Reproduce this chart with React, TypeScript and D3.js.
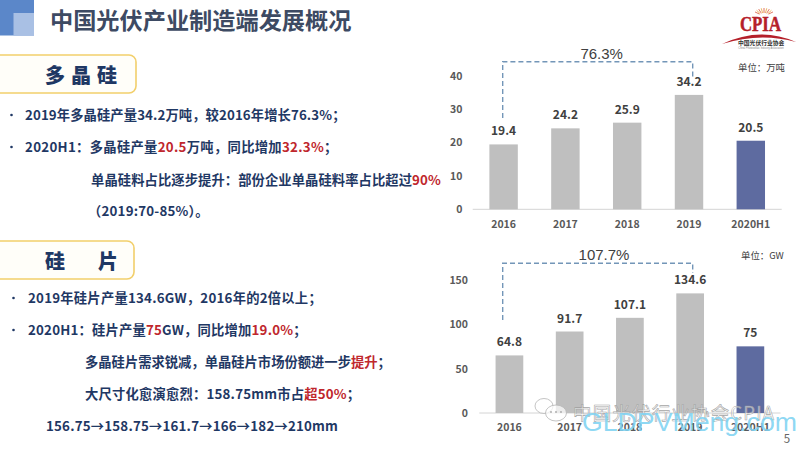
import React, { useEffect, useRef } from 'react';
import * as d3 from 'd3';

const categories = ['2016', '2017', '2018', '2019', '2020H1'];
const polyValues = [19.4, 24.2, 25.9, 34.2, 20.5];
const polyLabels = ['19.4', '24.2', '25.9', '34.2', '20.5'];
const polyTicks = [0, 10, 20, 30, 40];
const waferValues = [64.8, 91.7, 107.1, 134.6, 75];
const waferLabels = ['64.8', '91.7', '107.1', '134.6', '75'];
const waferTicks = [0, 50, 100, 150];

// [text, isRed]
type Run = [string, boolean?];
const polyText: Run[][] = [
  [['2019年多晶硅产量34.2万吨，较2016年增长76.3%；']],
  [['2020H1：多晶硅产量'], ['20.5', true], ['万吨，同比增加'], ['32.3%', true], ['；']],
  [['单晶硅料占比逐步提升：部份企业单晶硅料率占比超过'], ['90%', true]],
  [['（2019:70-85%）。']],
];
const waferText: Run[][] = [
  [['2019年硅片产量134.6GW，2016年的2倍以上；']],
  [['2020H1：硅片产量'], ['75', true], ['GW，同比增加'], ['19.0%', true], ['；']],
  [['多晶硅片需求锐减，单晶硅片市场份额进一步'], ['提升', true], ['；']],
  [['大尺寸化愈演愈烈：158.75mm市占'], ['超50%', true], ['；']],
  [['156.75→158.75→161.7→166→182→210mm']],
];

const NAVY = '#1f3864';
const RED = '#c0272d';
const GREY = '#bfbfbf';
const BLUE = '#5e6ba0';
const LOGO_RED = '#b5202a';
const cjk = '"Noto Sans CJK SC", "Noto Sans", sans-serif';

type Sel = d3.Selection<SVGGElement, unknown, null, undefined>;

function drawBars(
  root: Sel,
  opts: {
    values: number[];
    labels: string[];
    ticks: number[];
    maxTick: number;
    x0: number;
    x1: number;
    y0: number;
    yTop: number;
    growth: string;
    growthX: number;
    growthY: number;
    bracketLeft: number;
    bracketRight: number;
    bracketTop: number;
    bracketLeftEnd: number;
    bracketRightEnd: number;
    tickX: number;
    catY: number;
  },
) {
  const x = d3.scaleBand<string>().domain(categories).range([opts.x0, opts.x1]).paddingInner(0.54).paddingOuter(0.27);
  const y = d3.scaleLinear().domain([0, opts.maxTick]).range([opts.y0, opts.yTop]);
  const g = root.append('g');

  g.append('line')
    .attr('x1', opts.x0).attr('x2', opts.x1)
    .attr('y1', opts.y0).attr('y2', opts.y0)
    .attr('stroke', '#d4d4d4').attr('stroke-width', 1);

  g.selectAll('rect.bar')
    .data(opts.values)
    .join('rect')
    .attr('class', 'bar')
    .attr('x', (_, i) => x(categories[i]) as number)
    .attr('width', x.bandwidth())
    .attr('y', d => y(d))
    .attr('height', d => opts.y0 - y(d))
    .attr('fill', (_, i) => (i === 4 ? BLUE : GREY));

  g.selectAll('text.val')
    .data(opts.labels)
    .join('text')
    .attr('class', 'val')
    .attr('x', (_, i) => (x(categories[i]) as number) + x.bandwidth() / 2)
    .attr('y', (_, i) => y(opts.values[i]) - 9)
    .attr('text-anchor', 'middle')
    .attr('font-family', cjk).attr('font-weight', 700).attr('font-size', 12)
    .attr('fill', '#404040')
    .text(d => d);

  g.selectAll('text.tick')
    .data(opts.ticks)
    .join('text')
    .attr('class', 'tick')
    .attr('x', opts.tickX)
    .attr('y', d => y(d) + 4)
    .attr('text-anchor', 'end')
    .attr('font-family', cjk).attr('font-weight', 700).attr('font-size', 10.5)
    .attr('fill', '#595959')
    .text(d => d);

  g.selectAll('text.cat')
    .data(categories)
    .join('text')
    .attr('class', 'cat')
    .attr('x', d => (x(d) as number) + x.bandwidth() / 2)
    .attr('y', opts.catY)
    .attr('text-anchor', 'middle')
    .attr('font-family', cjk).attr('font-weight', 700).attr('font-size', 10.5)
    .attr('fill', '#595959')
    .text(d => d);

  // dashed bracket from 2016 to 2019
  const bracket = d3.path();
  bracket.moveTo(opts.bracketLeft, opts.bracketLeftEnd);
  bracket.lineTo(opts.bracketLeft, opts.bracketTop);
  bracket.lineTo(opts.bracketRight, opts.bracketTop);
  bracket.lineTo(opts.bracketRight, opts.bracketRightEnd);
  g.append('path')
    .attr('d', bracket.toString())
    .attr('fill', 'none')
    .attr('stroke', '#7396b8').attr('stroke-width', 1.4)
    .attr('stroke-dasharray', '5 3');

  g.append('text')
    .attr('x', opts.growthX)
    .attr('y', opts.growthY)
    .attr('text-anchor', 'middle')
    .attr('font-family', 'Liberation Sans, sans-serif').attr('font-size', 15)
    .attr('fill', '#404040')
    .text(opts.growth);
}

function drawHeading(root: Sel, label: string, y: number, w: number, spacing: number) {
  root.append('rect')
    .attr('x', -12).attr('y', y).attr('width', w + 12).attr('height', 38).attr('rx', 7)
    .attr('fill', '#fffef9').attr('stroke', '#f2cf6b').attr('stroke-width', 1.6);
  root.append('text')
    .attr('x', 45).attr('y', y + 28)
    .attr('font-family', cjk).attr('font-weight', 900).attr('font-size', 20)
    .attr('letter-spacing', spacing)
    .attr('fill', NAVY)
    .text(label);
}

function drawLines(
  root: Sel,
  lines: Run[][],
  xs: number[],
  ys: number[],
  spacing: number[],
  bulletX: number,
) {
  lines.forEach((runs, i) => {
    if (i < 2) {
      root.append('circle').attr('cx', bulletX).attr('cy', ys[i] - 5).attr('r', 1.3).attr('fill', NAVY);
    }
    const t = root.append('text')
      .attr('x', xs[i]).attr('y', ys[i])
      .attr('font-family', cjk).attr('font-weight', 700).attr('font-size', 13.3)
      .attr('letter-spacing', spacing[i])
      .attr('fill', NAVY);
    runs.forEach(([s, red]) => {
      t.append('tspan').attr('fill', red ? RED : NAVY).text(s);
    });
  });
}

function drawLogo(root: Sel) {
  // sun rays above the letters
  d3.range(-4, 5).forEach(i => {
    const a = (i * 16 * Math.PI) / 180;
    root.append('line')
      .attr('x1', 764 + Math.sin(a) * 5).attr('y1', 15 - Math.cos(a) * 2)
      .attr('x2', 764 + Math.sin(a) * 10).attr('y2', 15 - Math.cos(a) * 7)
      .attr('stroke', i % 2 ? '#e8a33d' : '#d8563a').attr('stroke-width', 0.8);
  });
  root.append('text').attr('x', 740).attr('y', 31)
    .attr('font-family', 'Liberation Serif, serif').attr('font-weight', 700).attr('font-size', 22)
    .attr('textLength', 41).attr('lengthAdjust', 'spacingAndGlyphs')
    .attr('fill', LOGO_RED).attr('stroke', LOGO_RED).attr('stroke-width', 0.5).text('CPIA');
  root.append('path').attr('d', 'M722,44 Q760,26 796,42 Q760,32 722,44 Z').attr('fill', LOGO_RED);
  root.append('text').attr('x', 738).attr('y', 44.5)
    .attr('font-family', cjk).attr('font-weight', 700).attr('font-size', 5.8)
    .attr('fill', '#333333').text('中国光伏行业协会');
  root.append('text').attr('x', 761).attr('y', 48.5).attr('text-anchor', 'middle')
    .attr('font-family', 'Liberation Sans, sans-serif').attr('font-size', 2.6)
    .attr('fill', '#888888').text('China Photovoltaic Industry Association');
}

function drawWatermark(root: Sel) {
  // two speech bubbles
  const bubbles = root.append('g').attr('fill', '#ffffff').attr('fill-opacity', 0.7).attr('stroke', '#b5b5b5').attr('stroke-width', 0.8);
  bubbles.append('ellipse').attr('cx', 544).attr('cy', 406).attr('rx', 9).attr('ry', 7.5);
  bubbles.append('ellipse').attr('cx', 556).attr('cy', 413).attr('rx', 10.5).attr('ry', 8);
  root.selectAll('circle.dot')
    .data([551, 556, 561])
    .join('circle')
    .attr('class', 'dot')
    .attr('cx', d => d).attr('cy', 412).attr('r', 0.9).attr('fill', '#a8a8a8');

  root.append('text').attr('x', 573).attr('y', 420)
    .attr('font-family', cjk).attr('font-size', 18.5)
    .attr('textLength', 201)
    .attr('fill', '#ffffff').attr('fill-opacity', 0.55)
    .attr('stroke', '#9a9a9a').attr('stroke-width', 0.6).attr('stroke-opacity', 0.9)
    .text('中国光伏行业协会CPIA');
  root.append('text').attr('x', 582).attr('y', 431)
    .attr('font-family', 'Liberation Sans, sans-serif').attr('font-size', 25)
    .attr('textLength', 215).attr('lengthAdjust', 'spacingAndGlyphs')
    .attr('fill', '#7fd3f2').attr('fill-opacity', 0.9)
    .text('GLDPVMeng.com');
}

const App: React.FC = () => {
  const ref = useRef<SVGSVGElement>(null);

  useEffect(() => {
    if (!ref.current) return;
    const svg = d3.select(ref.current);
    svg.selectAll('*').remove();
    const root = svg.append('g') as unknown as Sel;

    root.append('rect').attr('width', 800).attr('height', 450).attr('fill', '#ffffff');

    // corner squares
    root.append('rect').attr('x', 0).attr('y', 0).attr('width', 34).attr('height', 35.5).attr('fill', '#5b87c9');
    root.append('rect').attr('x', 13.5).attr('y', 13).attr('width', 20.5).attr('height', 22.5).attr('fill', '#a9c0e4');

    root.append('text')
      .attr('x', 50).attr('y', 28.5)
      .attr('font-family', cjk).attr('font-weight', 700).attr('font-size', 23.2)
      .attr('fill', '#3d4a63')
      .text('中国光伏产业制造端发展概况');

    drawHeading(root, '多晶硅', 55, 136, 6);
    drawHeading(root, '硅片', 241, 134, 33);

    drawLines(root, polyText, [25, 25, 91, 88], [120, 152, 185, 216], [0.1, 0.3, 0.08, 0.2], 11.5);
    drawLines(root, waferText, [28, 28, 85, 85, 46], [303, 335, 367, 399, 431], [0.23, 0.2, 0, 0.2, 0.2], 13.5);

    drawBars(root, {
      values: polyValues, labels: polyLabels, ticks: polyTicks, maxTick: 40,
      x0: 472.7, x1: 781.7, y0: 209.3, yTop: 75.5,
      growth: '76.3%', growthX: 601.7, growthY: 59,
      bracketLeft: 502.7, bracketRight: 692.7, bracketTop: 61.7, bracketLeftEnd: 118, bracketRightEnd: 77,
      tickX: 462.5, catY: 228,
    });
    drawBars(root, {
      values: waferValues, labels: waferLabels, ticks: waferTicks, maxTick: 150,
      x0: 479.3, x1: 780.5, y0: 413, yTop: 279.7,
      growth: '107.7%', growthX: 604, growthY: 259.5,
      bracketLeft: 502.7, bracketRight: 692.7, bracketTop: 263.3, bracketLeftEnd: 320, bracketRightEnd: 273,
      tickX: 468, catY: 431,
    });

    root.append('text').attr('x', 738).attr('y', 71)
      .attr('font-family', cjk).attr('font-size', 9.4).attr('fill', '#404040').text('单位：万吨');
    root.append('text').attr('x', 741).attr('y', 258.5)
      .attr('font-family', cjk).attr('font-size', 9.4).attr('fill', '#404040').text('单位：GW');

    drawLogo(root);
    drawWatermark(root);

    root.append('text').attr('x', 787).attr('y', 443).attr('text-anchor', 'middle')
      .attr('font-family', cjk).attr('font-size', 11.5).attr('fill', '#666666').text('5');
  }, []);

  return <svg ref={ref} width={800} height={450} style={{ position: 'absolute', left: 0, top: 0 }} />;
};

export default App;
